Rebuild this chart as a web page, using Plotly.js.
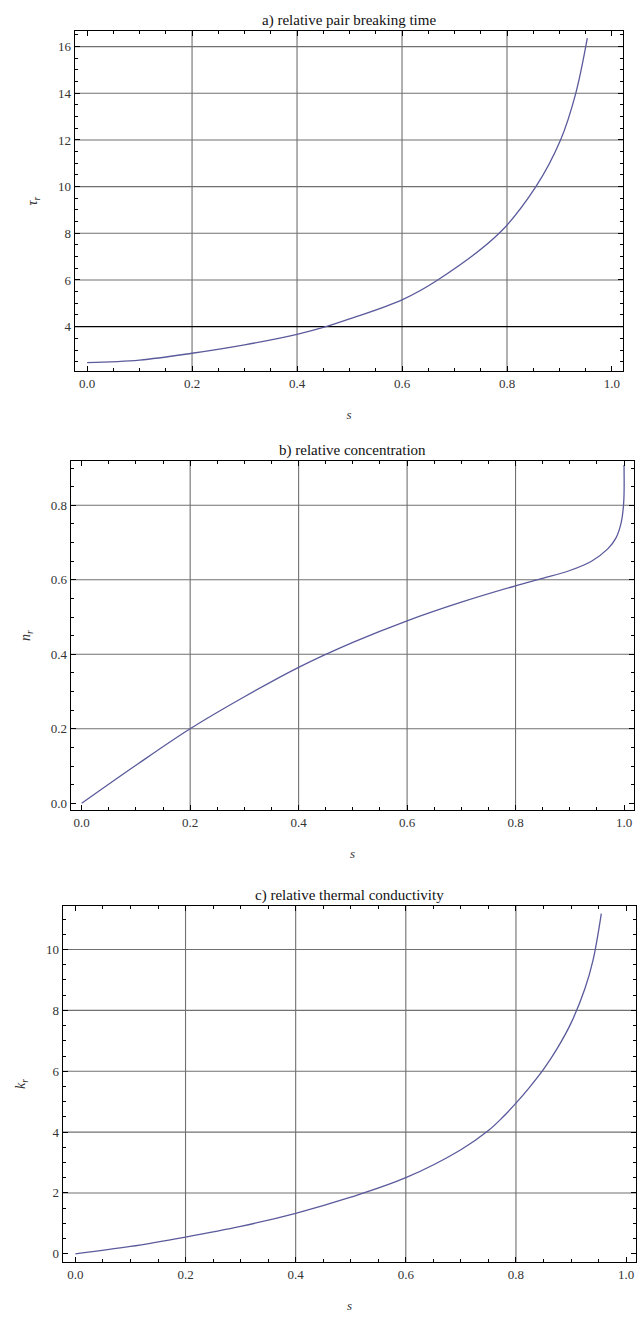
<!DOCTYPE html>
<html>
<head>
<meta charset="utf-8">
<script src="https://cdn.plot.ly/plotly-3.0.1.min.js"></script>
<style>html,body{margin:0;padding:0;background:#fff;}#chart{width:637px;height:1318px;}</style>
</head>
<body>
<div id="chart"></div>
<script>
// Panel a) relative pair breaking time
const sA   = [0, 0.1, 0.2, 0.3, 0.4, 0.455, 0.5, 0.6, 0.668, 0.785, 0.855, 0.902, 0.931, 0.953];
const tauR = [2.46, 2.57, 2.86, 3.22, 3.67, 4.0, 4.33, 5.15, 6.0, 8.0, 10.0, 12.0, 14.0, 16.36];
const refLineA = [4];

// Panel b) relative concentration
const sB = [0, 0.1, 0.2, 0.3, 0.4, 0.5, 0.6, 0.7, 0.8, 0.85, 0.9, 0.94, 0.97, 0.985, 0.995, 0.9995, 1.0];
const nR = [0, 0.102, 0.2, 0.286, 0.365, 0.432, 0.49, 0.54, 0.584, 0.604, 0.625, 0.65, 0.683, 0.712, 0.755, 0.81, 0.908];

// Panel c) relative thermal conductivity
const sC = [0, 0.1, 0.2, 0.3, 0.4, 0.5, 0.6, 0.7, 0.75, 0.775, 0.8, 0.825, 0.85, 0.875, 0.9, 0.925, 0.94, 0.955];
const kR = [0, 0.24, 0.55, 0.9, 1.33, 1.86, 2.5, 3.42, 4.05, 4.47, 4.95, 5.48, 6.06, 6.75, 7.58, 8.7, 9.65, 11.18];

// Titles and labels
const titles = ["a) relative pair breaking time", "b) relative concentration", "c) relative thermal conductivity"];
const yLabels = ["<i>τ<sub>r</sub></i>", "<i>n<sub>r</sub></i>", "<i>k<sub>r</sub></i>"];
const xLabel = "<i>s</i>";

// Grid values
const gridX  = [0.2, 0.4, 0.6, 0.8];
const gridYA = [6, 8, 10, 12, 14, 16];
const gridYB = [0.2, 0.4, 0.6, 0.8];
const gridYC = [2, 4, 6, 8, 10];

const W = 637, H = 1318;
const curveColor = '#5a5a9c';
const serif = 'Liberation Serif';
const gridColor = '#707070';

function xdom(l, r) { return [l / W, r / W]; }
function ydom(top, bottom) { return [1 - bottom / H, 1 - top / H]; }

const lineStyle = {color: curveColor, width: 1.3, shape: 'spline', smoothing: 1};
const traces = [
  {x: sA, y: tauR, xaxis: 'x', yaxis: 'y', mode: 'lines', line: lineStyle},
  {x: sB, y: nR, xaxis: 'x2', yaxis: 'y2', mode: 'lines', line: lineStyle},
  {x: sC, y: kR, xaxis: 'x3', yaxis: 'y3', mode: 'lines', line: lineStyle}
];

function xAxis(domain, range, anchor) {
  return {
    domain: domain, range: range, anchor: anchor,
    showgrid: false, zeroline: false,
    showline: true, linecolor: '#000', linewidth: 1.3, mirror: 'ticks',
    ticks: 'inside', ticklen: 5, tickwidth: 1, tickcolor: '#000',
    tick0: 0, dtick: 0.2, tickformat: '.1f',
    minor: {ticks: 'inside', ticklen: 3, tickwidth: 1, tickcolor: '#000', dtick: 0.05, tick0: 0, showgrid: false},
    tickfont: {family: serif, size: 13, color: '#333'},
    title: {text: xLabel, font: {family: serif, size: 13, color: '#333'}, standoff: 20}
  };
}
function yAxis(domain, range, anchor, dtick, mdtick, fmt, label) {
  return {
    domain: domain, range: range, anchor: anchor,
    showgrid: false, zeroline: false,
    showline: true, linecolor: '#000', linewidth: 1.3, mirror: 'ticks',
    ticks: 'inside', ticklen: 5, tickwidth: 1, tickcolor: '#000',
    tick0: 0, dtick: dtick, tickformat: fmt,
    minor: {ticks: 'inside', ticklen: 3, tickwidth: 1, tickcolor: '#000', dtick: mdtick, tick0: 0, showgrid: false},
    tickfont: {family: serif, size: 13, color: '#333'},
    title: {text: label, font: {family: serif, size: 14, color: '#333'}, standoff: 17}
  };
}

const shapes = [];
function vgrid(xr, yr) {
  gridX.forEach(v => shapes.push({type: 'line', xref: xr, yref: yr + ' domain', x0: v, x1: v, y0: 0, y1: 1, line: {color: gridColor, width: 1.1}, layer: 'below'}));
}
function hgrid(xr, yr, vals) {
  vals.forEach(v => shapes.push({type: 'line', xref: xr + ' domain', yref: yr, x0: 0, x1: 1, y0: v, y1: v, line: {color: gridColor, width: 1.1}, layer: 'below'}));
}
vgrid('x', 'y'); hgrid('x', 'y', gridYA);
refLineA.forEach(v => shapes.push({type: 'line', xref: 'x domain', yref: 'y', x0: 0, x1: 1, y0: v, y1: v, line: {color: '#000', width: 1.3}, layer: 'below'}));
vgrid('x2', 'y2'); hgrid('x2', 'y2', gridYB);
vgrid('x3', 'y3'); hgrid('x3', 'y3', gridYC);

const annotations = titles.map((t, i) => {
  const sfx = i === 0 ? '' : String(i + 1);
  return {text: t, xref: 'x' + sfx + ' domain', yref: 'y' + sfx + ' domain', x: 0.5, y: 1, xanchor: 'center', yanchor: 'bottom', yshift: 0, showarrow: false, font: {family: serif, size: 15, color: '#111'}};
});

const layout = {
  width: W, height: H,
  margin: {l: 0, r: 0, t: 0, b: 0},
  paper_bgcolor: '#fff', plot_bgcolor: '#fff',
  showlegend: false,
  xaxis:  xAxis(xdom(75, 623), [-0.023, 1.021], 'y'),
  yaxis:  yAxis(ydom(31, 371), [2.1, 16.67], 'x', 2, 0.5, 'd', yLabels[0]),
  xaxis2: xAxis(xdom(71, 634), [-0.0197, 1.0184], 'y2'),
  yaxis2: yAxis(ydom(461, 810), [-0.018, 0.919], 'x2', 0.2, 0.05, '.1f', yLabels[1]),
  xaxis3: xAxis(xdom(63, 636), [-0.0225, 1.018], 'y3'),
  yaxis3: yAxis(ydom(906, 1262), [-0.27, 11.43], 'x3', 2, 0.5, 'd', yLabels[2]),
  shapes: shapes,
  annotations: annotations
};

Plotly.newPlot('chart', traces, layout, {displayModeBar: false, staticPlot: true});
</script>
</body>
</html>
